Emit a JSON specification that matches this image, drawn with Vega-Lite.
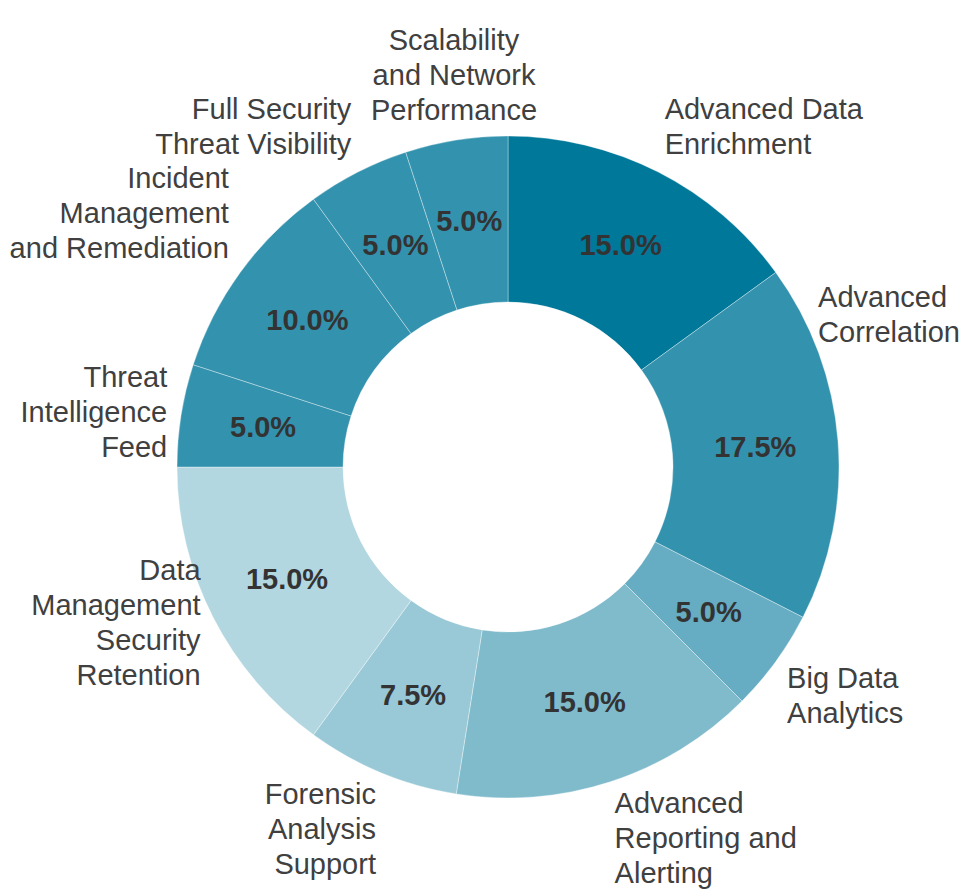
{
  "$schema": "https://vega.github.io/schema/vega-lite/v6.json",
  "width": 914,
  "height": 848,
  "padding": {"left": 51, "top": 43, "right": 0, "bottom": 0},
  "autosize": {"type": "none"},
  "background": "#ffffff",
  "config": {"view": {"stroke": null}, "text": {"font": "Liberation Sans"}},
  "data": {
    "values": [
      {"idx": 1, "segment": "Advanced Data Enrichment", "label": "Advanced Data\nEnrichment", "share": 15.0},
      {"idx": 2, "segment": "Advanced Correlation", "label": "Advanced\nCorrelation", "share": 17.5},
      {"idx": 3, "segment": "Big Data Analytics", "label": "Big Data\nAnalytics", "share": 5.0},
      {"idx": 4, "segment": "Advanced Reporting and Alerting", "label": "Advanced\nReporting and\nAlerting", "share": 15.0},
      {"idx": 5, "segment": "Forensic Analysis Support", "label": "Forensic\nAnalysis\nSupport", "share": 7.5},
      {"idx": 6, "segment": "Data Management Security Retention", "label": "Data\nManagement\nSecurity\nRetention", "share": 15.0},
      {"idx": 7, "segment": "Threat Intelligence Feed", "label": "Threat\nIntelligence\nFeed", "share": 5.0},
      {"idx": 8, "segment": "Incident Management and Remediation", "label": "Incident\nManagement\nand Remediation", "share": 10.0},
      {"idx": 9, "segment": "Full Security Threat Visibility", "label": "Full Security\nThreat Visibility", "share": 5.0},
      {"idx": 10, "segment": "Scalability and Network Performance", "label": "Scalability\nand Network\nPerformance", "share": 5.0}
    ]
  },
  "transform": [
    {"window": [{"op": "sum", "field": "share", "as": "cum_end"}], "sort": [{"field": "idx", "order": "ascending"}], "frame": [null, 0]},
    {"calculate": "datum.cum_end - datum.share", "as": "cum_start"},
    {"calculate": "(datum.cum_start + datum.cum_end) / 2", "as": "mid"},
    {"calculate": "datum.mid * 3.6", "as": "a"},
    {"calculate": "datum.a > 64 && datum.a < 90 ? 64 : (datum.a >= 90 && datum.a < 116 ? 116 : datum.a)", "as": "b"},
    {"calculate": "datum.b / 3.6", "as": "lab_pos"},
    {"calculate": "sin(datum.b * PI / 180) > 0.2 ? 'left' : (sin(datum.b * PI / 180) < -0.2 ? 'right' : 'center')", "as": "halign"},
    {"calculate": "cos(datum.b * PI / 180) > 0.5 ? 'bottom' : (cos(datum.b * PI / 180) < -0.5 ? 'top' : 'middle')", "as": "valign"},
    {"calculate": "length(split(datum.label, '\\n'))", "as": "nl"},
    {"calculate": "format(datum.share, '.1f') + '%'", "as": "pct"}
  ],
  "layer": [
    {
      "mark": {"type": "arc", "outerRadius": 331, "innerRadius": 165, "stroke": "#ffffff", "strokeWidth": 0.7, "strokeOpacity": 0.5},
      "encoding": {
        "theta": {"field": "cum_start", "type": "quantitative", "stack": null, "scale": {"domain": [0, 100], "range": [0, 6.283185307179586]}},
        "theta2": {"field": "cum_end"},
        "color": {
          "field": "segment",
          "type": "nominal",
          "legend": null,
          "scale": {
            "domain": ["Advanced Data Enrichment", "Advanced Correlation", "Big Data Analytics", "Advanced Reporting and Alerting", "Forensic Analysis Support", "Data Management Security Retention", "Threat Intelligence Feed", "Incident Management and Remediation", "Full Security Threat Visibility", "Scalability and Network Performance"],
            "range": ["#007899", "#3392ad", "#66acc2", "#80bbcc", "#99c9d6", "#b3d7e0", "#3392ad", "#3392ad", "#3392ad", "#3392ad"]
          }
        }
      }
    },
    {
      "mark": {"type": "text", "radius": 248, "fontSize": 29, "fontWeight": "bold", "fill": "#333333", "align": "center", "baseline": "middle"},
      "encoding": {
        "theta": {"field": "mid", "type": "quantitative", "stack": null},
        "text": {"field": "pct", "type": "nominal"}
      }
    },
    {
      "mark": {
        "type": "text",
        "radius": 345,
        "fontSize": 29,
        "fill": "#404040",
        "lineBreak": "\n",
        "lineHeight": 35,
        "align": {"expr": "datum.halign"},
        "baseline": {"expr": "datum.valign"},
        "dy": {"expr": "datum.valign == 'bottom' ? -(datum.nl - 1) * 35 : (datum.valign == 'middle' ? -(datum.nl - 1) * 17.5 : -5)"}
      },
      "encoding": {
        "theta": {"field": "lab_pos", "type": "quantitative", "stack": null},
        "text": {"field": "label", "type": "nominal"}
      }
    }
  ]
}
